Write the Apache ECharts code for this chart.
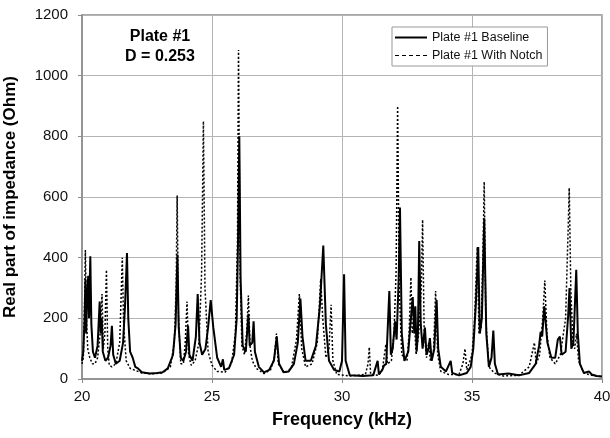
<!DOCTYPE html>
<html>
<head>
<meta charset="utf-8">
<script src="https://cdn.jsdelivr.net/npm/echarts@6/dist/echarts.min.js"></script>
<style>
html, body { margin: 0; padding: 0; background: #fff; }
#chart { width: 610px; height: 438px; }
</style>
</head>
<body>
<div id="chart"></div>
<script>
// [frequency kHz, real impedance Ohm]
var baseline = [
  [20.00,60],[20.05,90],[20.10,200],[20.13,330],[20.16,150],[20.20,280],[20.24,340],[20.27,200],
  [20.32,405],[20.36,180],[20.42,90],[20.50,70],[20.60,110],[20.68,255],[20.72,150],[20.76,200],
  [20.80,90],[20.90,60],[21.00,70],[21.10,110],[21.15,175],[21.20,80],[21.30,50],[21.45,60],
  [21.58,120],[21.66,250],[21.73,415],[21.78,200],[21.85,90],[21.95,70],[22.05,40],[22.15,35],
  [22.30,22],[22.60,18],[22.90,20],[23.10,22],[23.30,35],[23.50,80],[23.60,180],[23.67,410],
  [23.72,170],[23.80,70],[23.90,60],[24.00,90],[24.08,175],[24.13,80],[24.25,60],[24.38,140],
  [24.45,280],[24.52,120],[24.62,80],[24.75,100],[24.85,170],[24.95,260],[25.05,170],[25.20,70],
  [25.35,40],[25.42,65],[25.47,30],[25.65,35],[25.85,80],[25.95,200],[26.00,450],[26.05,800],
  [26.10,330],[26.18,110],[26.30,90],[26.40,215],[26.45,110],[26.55,120],[26.60,190],[26.65,90],
  [26.80,40],[27.00,22],[27.20,30],[27.38,60],[27.49,140],[27.58,50],[27.75,22],[27.95,25],
  [28.15,50],[28.30,120],[28.40,265],[28.48,140],[28.60,60],[28.80,60],[29.00,110],[29.15,240],
  [29.28,440],[29.38,180],[29.50,60],[29.70,30],[29.90,25],[30.00,60],[30.08,345],[30.14,60],
  [30.30,12],[30.80,10],[31.20,12],[31.37,60],[31.42,15],[31.55,30],[31.62,45],[31.70,50],
  [31.82,290],[31.88,80],[31.95,100],[32.04,190],[32.10,130],[32.18,330],[32.23,565],[32.30,150],
  [32.40,60],[32.55,90],[32.65,200],[32.72,270],[32.78,150],[32.82,240],[32.87,90],[32.92,150],
  [32.97,455],[33.03,180],[33.10,100],[33.19,170],[33.25,80],[33.33,100],[33.38,135],[33.45,60],
  [33.55,100],[33.64,260],[33.70,100],[33.80,40],[34.00,25],[34.18,60],[34.24,20],[34.50,12],
  [34.80,20],[34.95,40],[35.05,100],[35.15,250],[35.24,435],[35.30,150],[35.38,200],[35.47,530],
  [35.55,150],[35.65,40],[35.75,70],[35.82,160],[35.88,50],[36.00,15],[36.40,18],[36.80,12],
  [37.20,20],[37.45,50],[37.58,110],[37.64,155],[37.70,140],[37.78,240],[37.90,120],[38.05,70],
  [38.20,70],[38.30,130],[38.38,140],[38.45,80],[38.60,90],[38.70,210],[38.75,300],[38.82,100],
  [38.90,120],[38.96,250],[39.01,360],[39.07,150],[39.15,50],[39.30,20],[39.50,25],[39.60,15],
  [39.80,10],[40.00,8]
];

var withNotch = [
  [20.00,50],[20.05,70],[20.10,250],[20.13,425],[20.17,200],[20.22,100],[20.30,70],[20.40,50],
  [20.50,50],[20.60,70],[20.70,150],[20.77,280],[20.82,100],[20.88,150],[20.94,360],[20.99,100],
  [21.05,45],[21.15,40],[21.30,50],[21.45,120],[21.55,400],[21.60,180],[21.70,60],[21.85,35],
  [22.00,30],[22.30,20],[22.70,17],[23.10,20],[23.40,40],[23.55,120],[23.62,300],[23.66,605],
  [23.71,200],[23.80,50],[23.90,50],[23.97,120],[24.04,255],[24.10,80],[24.20,45],[24.35,60],
  [24.50,120],[24.60,350],[24.67,850],[24.73,300],[24.85,90],[25.00,45],[25.20,25],[25.50,22],
  [25.75,50],[25.90,150],[25.98,450],[26.02,1085],[26.08,350],[26.15,110],[26.25,80],[26.33,150],
  [26.40,275],[26.46,110],[26.55,60],[26.70,35],[27.00,18],[27.25,30],[27.40,70],[27.48,150],
  [27.55,50],[27.80,20],[28.05,35],[28.25,130],[28.36,280],[28.45,100],[28.60,40],[28.85,50],
  [29.05,120],[29.18,330],[29.26,200],[29.38,70],[29.50,100],[29.58,245],[29.65,60],[29.80,15],
  [30.30,10],[30.90,15],[31.00,50],[31.05,105],[31.10,15],[31.40,12],[31.55,30],[31.69,115],
  [31.75,50],[31.90,60],[32.00,150],[32.08,350],[32.14,900],[32.20,300],[32.30,80],[32.50,60],
  [32.58,150],[32.65,335],[32.70,150],[32.78,200],[32.85,80],[32.95,150],[33.05,300],[33.10,525],
  [33.16,160],[33.25,70],[33.33,120],[33.40,60],[33.52,90],[33.60,290],[33.68,80],[33.80,25],
  [34.10,15],[34.50,15],[34.65,50],[34.73,100],[34.80,30],[35.00,80],[35.10,200],[35.20,435],
  [35.27,150],[35.35,170],[35.42,400],[35.47,650],[35.53,200],[35.65,40],[35.85,20],[36.20,10],
  [36.80,12],[37.20,40],[37.40,120],[37.47,50],[37.60,80],[37.72,200],[37.80,325],[37.88,150],
  [38.00,70],[38.20,50],[38.40,80],[38.60,200],[38.70,500],[38.74,630],[38.80,300],[38.88,120],
  [38.95,100],[39.02,150],[39.10,60],[39.30,20],[39.60,12],[40.00,8]
];

var seriesNames = ['Plate #1 Baseline', 'Plate #1 With Notch'];
var noteLines = ['Plate #1', 'D = 0.253'];

var chart = echarts.init(document.getElementById('chart'));
var font = 'Liberation Sans, Arial, sans-serif';

var option = {
  animation: false,
  backgroundColor: '#fff',
  grid: {
    left: 82, right: 8, top: 15, bottom: 59,
    outerBoundsMode: 'none', containLabel: false,
    show: true, borderColor: '#8c8c8c', borderWidth: 1.5
  },
  xAxis: {
    type: 'value', min: 20, max: 40, interval: 5,
    name: 'Frequency (kHz)', nameLocation: 'middle', nameGap: 32,
    nameTextStyle: { fontFamily: font, fontSize: 18, fontWeight: 'bold', color: '#000' },
    axisLine: { show: true, lineStyle: { color: '#8c8c8c', width: 1.5 } },
    axisTick: { show: true, length: 4, lineStyle: { color: '#8c8c8c' } },
    axisLabel: { fontFamily: font, fontSize: 15, color: '#111', margin: 10 },
    splitLine: { show: true, lineStyle: { color: '#b4b4b4', width: 1 } }
  },
  yAxis: {
    type: 'value', min: 0, max: 1200, interval: 200,
    name: 'Real part of impedance (Ohm)', nameLocation: 'middle', nameGap: 63,
    nameTextStyle: { fontFamily: font, fontSize: 17, fontWeight: 'bold', color: '#000' },
    axisLine: { show: true, lineStyle: { color: '#8c8c8c', width: 1.5 } },
    axisTick: { show: true, length: 4, lineStyle: { color: '#8c8c8c' } },
    axisLabel: {
      fontFamily: font, fontSize: 15, color: '#111', margin: 14,
      formatter: function (v) { return String(v); }
    },
    splitLine: { show: true, lineStyle: { color: '#b4b4b4', width: 1 } }
  },
  legend: {
    left: 392, top: 27, orient: 'vertical',
    backgroundColor: '#fff', borderColor: '#999', borderWidth: 1,
    padding: [4, 5, 4, 2], itemGap: 5, itemWidth: 32, itemHeight: 10,
    itemStyle: { color: 'rgba(0,0,0,0)', borderWidth: 0 },
    textStyle: { fontFamily: font, fontSize: 12.5, color: '#111' },
    data: [
      { name: seriesNames[0] },
      { name: seriesNames[1], lineStyle: { type: [4, 3], width: 1.2 } }
    ]
  },
  graphic: [
    {
      type: 'text', x: 160, y: 27,
      style: {
        text: noteLines.join('\n'), font: 'bold 16px ' + font,
        fill: '#000', textAlign: 'center', textVerticalAlign: 'top', lineHeight: 20
      }
    }
  ],
  series: [
    {
      name: seriesNames[0], type: 'line', data: baseline,
      symbol: 'none', z: 3,
      lineStyle: { color: '#000', width: 2 }, itemStyle: { color: '#000' }
    },
    {
      name: seriesNames[1], type: 'line', data: withNotch,
      symbol: 'none', z: 2,
      lineStyle: { color: '#000', width: 1.5, type: [2, 2] }, itemStyle: { color: '#000' }
    }
  ]
};
chart.setOption(option);
</script>
</body>
</html>
